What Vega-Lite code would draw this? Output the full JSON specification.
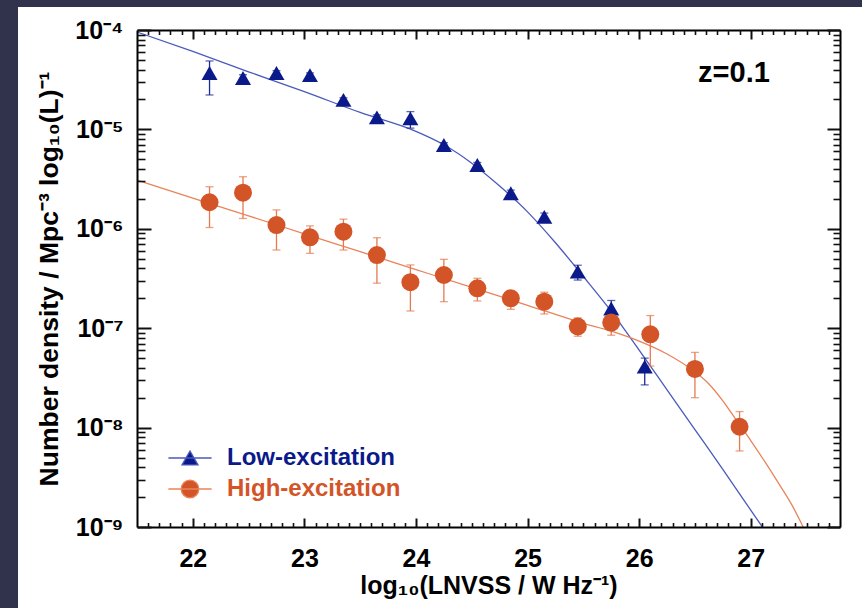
{
  "$schema": "https://vega.github.io/schema/vega-lite/v6.json",
  "width": 844,
  "height": 601,
  "autosize": {"type": "none"},
  "padding": {"left": 18, "top": 7, "right": 0, "bottom": 0},
  "background": "#30334b",
  "config": {
    "view": {"fill": "white", "stroke": null},
    "axis": {
      "grid": false,
      "domainColor": "black",
      "domainWidth": 2,
      "labelFont": "Liberation Sans",
      "labelFontWeight": "bold",
      "labelFontSize": 25,
      "labelColor": "black",
      "titleFont": "Liberation Sans",
      "titleFontWeight": "bold",
      "titleFontSize": 25,
      "titleColor": "black",
      "labelOverlap": false,
      "labelFlush": false,
      "labelBound": false
    }
  },
  "datasets": {
    "pts": [
      {"series": "Low-excitation", "x": 22.15, "y": 3.69e-5, "lo": 2.22e-5, "hi": 4.88e-5},
      {"series": "Low-excitation", "x": 22.45, "y": 3.29e-5, "lo": 2.85e-5, "hi": 3.55e-5},
      {"series": "Low-excitation", "x": 22.75, "y": 3.69e-5, "lo": 3.5e-5, "hi": 3.9e-5},
      {"series": "Low-excitation", "x": 23.05, "y": 3.52e-5, "lo": 3.35e-5, "hi": 3.7e-5},
      {"series": "Low-excitation", "x": 23.35, "y": 1.98e-5, "lo": 1.88e-5, "hi": 2.08e-5},
      {"series": "Low-excitation", "x": 23.65, "y": 1.32e-5, "lo": 1.24e-5, "hi": 1.4e-5},
      {"series": "Low-excitation", "x": 23.95, "y": 1.29e-5, "lo": 1.03e-5, "hi": 1.51e-5},
      {"series": "Low-excitation", "x": 24.25, "y": 6.97e-6, "lo": 6.6e-6, "hi": 7.35e-6},
      {"series": "Low-excitation", "x": 24.55, "y": 4.38e-6, "lo": 4.1e-6, "hi": 4.65e-6},
      {"series": "Low-excitation", "x": 24.85, "y": 2.28e-6, "lo": 2.12e-6, "hi": 2.45e-6},
      {"series": "Low-excitation", "x": 25.15, "y": 1.32e-6, "lo": 1.2e-6, "hi": 1.44e-6},
      {"series": "Low-excitation", "x": 25.45, "y": 3.71e-7, "lo": 3.05e-7, "hi": 4.3e-7},
      {"series": "Low-excitation", "x": 25.75, "y": 1.58e-7, "lo": 1.3e-7, "hi": 1.9e-7},
      {"series": "Low-excitation", "x": 26.05, "y": 4.1e-8, "lo": 2.69e-8, "hi": 5.0e-8},
      {"series": "High-excitation", "x": 22.15, "y": 1.85e-6, "lo": 1.03e-6, "hi": 2.65e-6},
      {"series": "High-excitation", "x": 22.45, "y": 2.31e-6, "lo": 1.27e-6, "hi": 3.34e-6},
      {"series": "High-excitation", "x": 22.75, "y": 1.09e-6, "lo": 6.12e-7, "hi": 1.55e-6},
      {"series": "High-excitation", "x": 23.05, "y": 8.2e-7, "lo": 5.66e-7, "hi": 1.07e-6},
      {"series": "High-excitation", "x": 23.35, "y": 9.35e-7, "lo": 6.12e-7, "hi": 1.25e-6},
      {"series": "High-excitation", "x": 23.65, "y": 5.44e-7, "lo": 2.84e-7, "hi": 8.13e-7},
      {"series": "High-excitation", "x": 23.95, "y": 2.9e-7, "lo": 1.49e-7, "hi": 4.33e-7},
      {"series": "High-excitation", "x": 24.25, "y": 3.43e-7, "lo": 1.85e-7, "hi": 4.93e-7},
      {"series": "High-excitation", "x": 24.55, "y": 2.52e-7, "lo": 1.88e-7, "hi": 3.18e-7},
      {"series": "High-excitation", "x": 24.85, "y": 2.0e-7, "lo": 1.55e-7, "hi": 2.33e-7},
      {"series": "High-excitation", "x": 25.15, "y": 1.85e-7, "lo": 1.39e-7, "hi": 2.3e-7},
      {"series": "High-excitation", "x": 25.45, "y": 1.04e-7, "lo": 8.3e-8, "hi": 1.27e-7},
      {"series": "High-excitation", "x": 25.75, "y": 1.14e-7, "lo": 8.5e-8, "hi": 1.36e-7},
      {"series": "High-excitation", "x": 26.1, "y": 8.67e-8, "lo": 4.17e-8, "hi": 1.34e-7},
      {"series": "High-excitation", "x": 26.5, "y": 3.89e-8, "lo": 2.0e-8, "hi": 5.71e-8},
      {"series": "High-excitation", "x": 26.9, "y": 1.02e-8, "lo": 5.82e-9, "hi": 1.45e-8}
    ],
    "curves": [
      {"series": "Low-excitation", "x": 21.5, "y": 9.55e-5},
      {"series": "Low-excitation", "x": 22.0, "y": 6.1e-5},
      {"series": "Low-excitation", "x": 22.5, "y": 3.8e-5},
      {"series": "Low-excitation", "x": 23.0, "y": 2.4e-5},
      {"series": "Low-excitation", "x": 23.5, "y": 1.48e-5},
      {"series": "Low-excitation", "x": 24.0, "y": 9.55e-6},
      {"series": "Low-excitation", "x": 24.25, "y": 7.0e-6},
      {"series": "Low-excitation", "x": 24.5, "y": 4.57e-6},
      {"series": "Low-excitation", "x": 24.75, "y": 2.69e-6},
      {"series": "Low-excitation", "x": 25.0, "y": 1.48e-6},
      {"series": "Low-excitation", "x": 25.25, "y": 7.24e-7},
      {"series": "Low-excitation", "x": 25.5, "y": 3.31e-7},
      {"series": "Low-excitation", "x": 25.75, "y": 1.48e-7},
      {"series": "Low-excitation", "x": 26.0, "y": 6.03e-8},
      {"series": "Low-excitation", "x": 26.25, "y": 2.4e-8},
      {"series": "Low-excitation", "x": 26.5, "y": 9.55e-9},
      {"series": "Low-excitation", "x": 26.75, "y": 3.8e-9},
      {"series": "Low-excitation", "x": 27.0, "y": 1.48e-9},
      {"series": "Low-excitation", "x": 27.105, "y": 1.0e-9},
      {"series": "High-excitation", "x": 21.5, "y": 3.09e-6},
      {"series": "High-excitation", "x": 22.0, "y": 2.04e-6},
      {"series": "High-excitation", "x": 22.5, "y": 1.35e-6},
      {"series": "High-excitation", "x": 23.0, "y": 8.91e-7},
      {"series": "High-excitation", "x": 23.5, "y": 5.89e-7},
      {"series": "High-excitation", "x": 24.0, "y": 3.89e-7},
      {"series": "High-excitation", "x": 24.5, "y": 2.57e-7},
      {"series": "High-excitation", "x": 25.0, "y": 1.7e-7},
      {"series": "High-excitation", "x": 25.5, "y": 1.12e-7},
      {"series": "High-excitation", "x": 25.75, "y": 9.33e-8},
      {"series": "High-excitation", "x": 26.0, "y": 7.41e-8},
      {"series": "High-excitation", "x": 26.25, "y": 5.5e-8},
      {"series": "High-excitation", "x": 26.5, "y": 3.63e-8},
      {"series": "High-excitation", "x": 26.625, "y": 2.75e-8},
      {"series": "High-excitation", "x": 26.75, "y": 1.86e-8},
      {"series": "High-excitation", "x": 26.875, "y": 1.17e-8},
      {"series": "High-excitation", "x": 27.0, "y": 7.41e-9},
      {"series": "High-excitation", "x": 27.125, "y": 4.57e-9},
      {"series": "High-excitation", "x": 27.25, "y": 2.75e-9},
      {"series": "High-excitation", "x": 27.375, "y": 1.62e-9},
      {"series": "High-excitation", "x": 27.47, "y": 1.0e-9}
    ]
  },
  "resolve": {"axis": {"x": "independent", "y": "independent"}},
  "layer": [
    {
      "data": {"name": "curves"},
      "mark": {"type": "line", "strokeWidth": 1.3, "interpolate": "monotone"},
      "encoding": {
        "x": {
          "field": "x", "type": "quantitative",
          "scale": {"domain": [21.5, 27.8], "range": [119, 822], "nice": false, "zero": false},
          "axis": {
            "orient": "bottom", "offset": -81, "zindex": 1,
            "values": [22, 23, 24, 25, 26, 27],
            "ticks": false, "tickSize": 0,
            "format": "d",
            "labelPadding": 19,
            "title": "log₁₀(LNVSS / W Hz⁻¹)",
            "titlePadding": 2
          }
        },
        "y": {
          "field": "y", "type": "quantitative",
          "scale": {"type": "log", "domain": [1e-9, 1e-4], "range": [520, 23], "nice": false},
          "axis": {
            "orient": "left", "offset": -119, "zindex": 1,
            "values": [1e-9, 1e-8, 1e-7, 1e-6, 1e-5, 1e-4],
            "ticks": false, "tickSize": 0,
            "labelExpr": "round(log(datum.value)/LN10) == -4 ? '10⁻⁴' : round(log(datum.value)/LN10) == -5 ? '10⁻⁵' : round(log(datum.value)/LN10) == -6 ? '10⁻⁶' : round(log(datum.value)/LN10) == -7 ? '10⁻⁷' : round(log(datum.value)/LN10) == -8 ? '10⁻⁸' : '10⁻⁹'",
            "labelPadding": 14,
            "title": "Number density / Mpc⁻³ log₁₀(L)⁻¹",
            "titleFontSize": 26.5,
            "titlePadding": 11
          }
        },
        "stroke": {
          "field": "series", "type": "nominal",
          "scale": {"range": ["#e8845a", "#4a5abc"]},
          "legend": null
        }
      }
    },
    {
      "data": {"name": "pts"},
      "mark": {"type": "rule", "strokeWidth": 1.3},
      "encoding": {
        "x": {
          "field": "x", "type": "quantitative",
          "axis": {
            "orient": "top", "offset": -520, "title": null, "labels": false, "domain": false, "zindex": 1,
            "values": [22, 23, 24, 25, 26, 27],
            "tickSize": 9, "ticks": true, "tickColor": "#111111", "tickWidth": 2
          }
        },
        "y": {
          "field": "lo", "type": "quantitative",
          "axis": {
            "orient": "right", "offset": -725, "title": null, "labels": false, "domain": false, "zindex": 1,
            "values": [1e-9, 1e-8, 1e-7, 1e-6, 1e-5, 1e-4],
            "tickSize": 14, "ticks": true, "tickColor": "#111111", "tickWidth": 2
          }
        },
        "y2": {"field": "hi"},
        "color": {
          "field": "series", "type": "nominal",
          "scale": {"range": ["#e47a50", "#1a2a96"]},
          "legend": null
        }
      }
    },
    {
      "data": {"name": "pts"},
      "mark": {"type": "tick", "orient": "horizontal", "size": 8, "thickness": 1.3},
      "encoding": {
        "x": {
          "field": "x", "type": "quantitative",
          "axis": {
            "orient": "top", "offset": -520, "title": null, "labels": false, "domain": false, "zindex": 1,
            "values": [21.6,21.7,21.8,21.9,22.1,22.2,22.3,22.4,22.5,22.6,22.7,22.8,22.9,23.1,23.2,23.3,23.4,23.5,23.6,23.7,23.8,23.9,24.1,24.2,24.3,24.4,24.5,24.6,24.7,24.8,24.9,25.1,25.2,25.3,25.4,25.5,25.6,25.7,25.8,25.9,26.1,26.2,26.3,26.4,26.5,26.6,26.7,26.8,26.9,27.1,27.2,27.3,27.4,27.5,27.6,27.7],
            "tickSize": 4.5, "ticks": true, "tickColor": "#111111", "tickWidth": 1.6
          }
        },
        "y": {
          "field": "lo", "type": "quantitative",
          "axis": {
            "orient": "right", "offset": -725, "title": null, "labels": false, "domain": false, "zindex": 1,
            "values": [2e-9,3e-9,4e-9,5e-9,6e-9,7e-9,8e-9,9e-9,2e-8,3e-8,4e-8,5e-8,6e-8,7e-8,8e-8,9e-8,2e-7,3e-7,4e-7,5e-7,6e-7,7e-7,8e-7,9e-7,2e-6,3e-6,4e-6,5e-6,6e-6,7e-6,8e-6,9e-6,2e-5,3e-5,4e-5,5e-5,6e-5,7e-5,8e-5,9e-5],
            "tickSize": 8, "ticks": true, "tickColor": "#111111", "tickWidth": 1.6
          }
        },
        "color": {"field": "series", "type": "nominal", "legend": null}
      }
    },
    {
      "data": {"name": "pts"},
      "mark": {"type": "tick", "orient": "horizontal", "size": 8, "thickness": 1.3},
      "encoding": {
        "x": {
          "field": "x", "type": "quantitative",
          "axis": {
            "orient": "bottom", "offset": -578, "title": null, "labels": false, "domain": true, "zindex": 1,
            "values": [22, 23, 24, 25, 26, 27],
            "tickSize": 9, "ticks": true, "tickColor": "#111111", "tickWidth": 2
          }
        },
        "y": {
          "field": "hi", "type": "quantitative",
          "axis": {
            "orient": "left", "offset": -822, "title": null, "labels": false, "domain": true, "zindex": 1,
            "values": [1e-9, 1e-8, 1e-7, 1e-6, 1e-5, 1e-4],
            "tickSize": 13, "ticks": true, "tickColor": "#111111", "tickWidth": 2
          }
        },
        "color": {"field": "series", "type": "nominal", "legend": null}
      }
    },
    {
      "data": {"name": "pts"},
      "mark": {"type": "point", "filled": true, "opacity": 1, "strokeWidth": 0},
      "encoding": {
        "x": {
          "field": "x", "type": "quantitative",
          "axis": {
            "orient": "bottom", "offset": -578, "title": null, "labels": false, "domain": false, "zindex": 1,
            "values": [21.6,21.7,21.8,21.9,22.1,22.2,22.3,22.4,22.5,22.6,22.7,22.8,22.9,23.1,23.2,23.3,23.4,23.5,23.6,23.7,23.8,23.9,24.1,24.2,24.3,24.4,24.5,24.6,24.7,24.8,24.9,25.1,25.2,25.3,25.4,25.5,25.6,25.7,25.8,25.9,26.1,26.2,26.3,26.4,26.5,26.6,26.7,26.8,26.9,27.1,27.2,27.3,27.4,27.5,27.6,27.7],
            "tickSize": 4.5, "ticks": true, "tickColor": "#111111", "tickWidth": 1.6
          }
        },
        "y": {
          "field": "y", "type": "quantitative",
          "axis": {
            "orient": "left", "offset": -822, "title": null, "labels": false, "domain": false, "zindex": 1,
            "values": [2e-9,3e-9,4e-9,5e-9,6e-9,7e-9,8e-9,9e-9,2e-8,3e-8,4e-8,5e-8,6e-8,7e-8,8e-8,9e-8,2e-7,3e-7,4e-7,5e-7,6e-7,7e-7,8e-7,9e-7,2e-6,3e-6,4e-6,5e-6,6e-6,7e-6,8e-6,9e-6,2e-5,3e-5,4e-5,5e-5,6e-5,7e-5,8e-5,9e-5],
            "tickSize": 7, "ticks": true, "tickColor": "#111111", "tickWidth": 1.6
          }
        },
        "shape": {
          "field": "series", "type": "nominal",
          "scale": {"range": ["circle", "triangle-up"]},
          "legend": null
        },
        "size": {
          "field": "series", "type": "nominal",
          "scale": {"range": [324, 256]},
          "legend": null
        },
        "fill": {
          "field": "series", "type": "nominal",
          "scale": {"domain": ["Low-excitation", "High-excitation"], "range": ["#0b1a8a", "#d35427"]},
          "legend": {
            "orient": "none", "legendX": 160, "legendY": 439, "title": null, "padding": 0,
            "symbolSize": 256, "labelOffset": 25, "rowPadding": 7, "labelLimit": 400,
            "labelFont": "Liberation Sans", "labelFontWeight": "bold", "labelFontSize": 24,
            "encoding": {
              "symbols": {
                "shape": {"condition": {"test": "datum.value === 'Low-excitation'", "value": "M-2.7,0H2.7M0,-0.87L1,0.87L-1,0.87Z"}, "value": "M-2.7,0H2.7M1.1,0A1.1,1.1,0,1,1,-1.1,0A1.1,1.1,0,1,1,1.1,0Z"},
                "stroke": {"condition": {"test": "datum.value === 'Low-excitation'", "value": "#4a5abc"}, "value": "#e8845a"},
                "strokeWidth": {"value": 1.3}
              },
              "labels": {
                "fill": {"condition": {"test": "datum.value === 'Low-excitation'", "value": "#0b1a8a"}, "value": "#d35427"}
              }
            }
          }
        }
      }
    },
    {
      "data": {"values": [{"label": "z=0.1"}]},
      "mark": {"type": "text", "font": "Liberation Sans", "fontWeight": "bold", "fontSize": 29, "color": "black", "align": "center", "baseline": "middle"},
      "encoding": {
        "x": {"datum": 26.85, "type": "quantitative", "axis": null},
        "y": {"datum": 3.73e-5, "type": "quantitative", "axis": null},
        "text": {"field": "label"}
      }
    }
  ]
}
